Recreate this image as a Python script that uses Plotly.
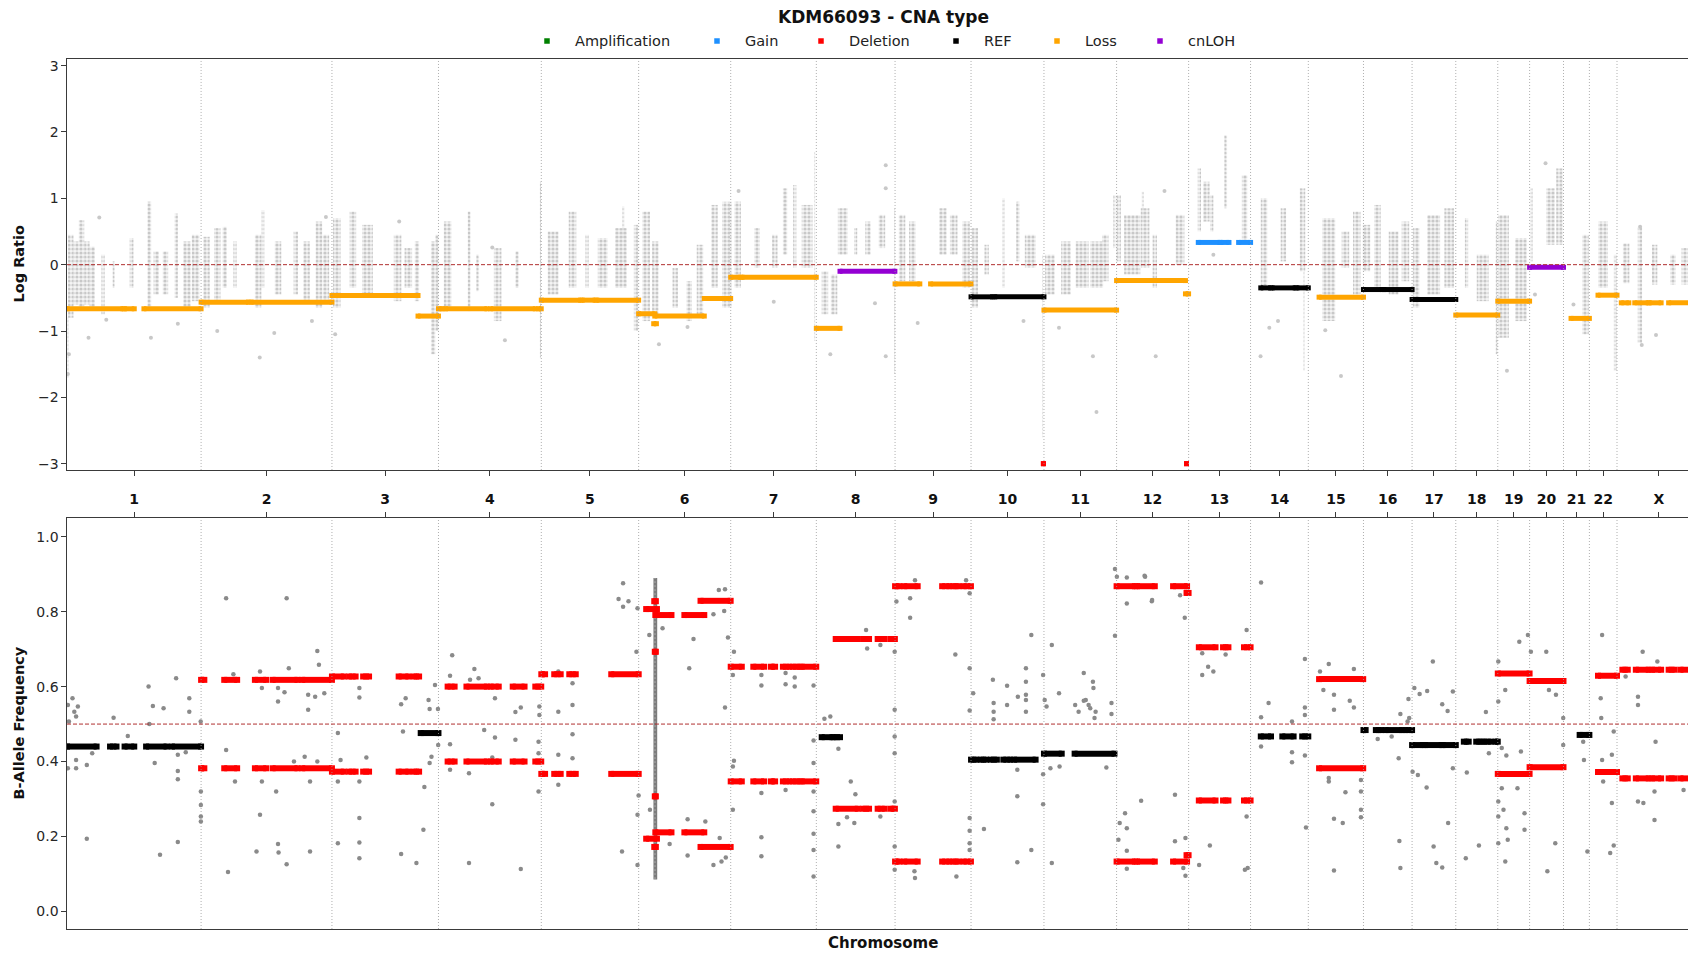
import plotly.graph_objects as go

# ---------------- data ----------------
CHROM_NAMES = ["1", "2", "3", "4", "5", "6", "7", "8", "9", "10", "11", "12",
               "13", "14", "15", "16", "17", "18", "19", "20", "21", "22", "X"]
CHROM_LEN_MB = [249.25, 243.20, 198.02, 191.15, 180.92, 171.12, 159.14, 146.36,
                141.21, 135.53, 135.01, 133.85, 115.17, 107.35, 102.53, 90.35,
                81.20, 78.08, 59.13, 63.03, 48.13, 51.30, 155.27]

# log-ratio segments: (chrom, start Mb, end Mb, log ratio)
LR_AMPLIFICATION = []
LR_GAIN = [("13", 18, 58, 0.335), ("13", 60, 75, 0.335), ("13", 93, 115.2, 0.335)]
LR_DELETION = [("10", 134.5, 134.5, -3.0), ("12", 130, 130, -3.0)]
LR_REF = [("10", 0, 40, -0.485), ("10", 44, 135.5, -0.485),
          ("14", 19, 37, -0.35), ("14", 40, 83, -0.35), ("14", 86, 107.3, -0.35),
          ("16", 0, 34, -0.375), ("16", 38, 90.3, -0.375),
          ("17", 0, 19, -0.525), ("17", 23, 81.2, -0.525)]
LR_LOSS = [("1", 0, 104, -0.665), ("1", 107, 125, -0.665), ("1", 143, 249.2, -0.665),
           ("2", 0, 88, -0.565), ("2", 93, 243.2, -0.565),
           ("3", 0, 160, -0.465), ("3", 160, 198, -0.775),
           ("4", 0, 8, -0.665), ("4", 13, 90, -0.665), ("4", 97, 180, -0.665), ("4", 186, 191, -0.665),
           ("5", 0, 73, -0.535), ("5", 76, 100, -0.535), ("5", 103, 180.9, -0.535),
           ("6", 0, 30, -0.74), ("6", 28, 33, -0.89), ("6", 30, 122, -0.775), ("6", 122, 171, -0.51),
           ("7", 0, 18, -0.19), ("7", 21, 159, -0.19),
           ("8", 0, 44, -0.96),
           ("9", 0, 46, -0.29), ("9", 66, 141, -0.29),
           ("11", 0, 135, -0.685),
           ("12", 0, 128, -0.24), ("12", 128, 133.8, -0.44),
           ("15", 20, 102.5, -0.49),
           ("18", 0, 78, -0.76),
           ("19", 0, 59.1, -0.55),
           ("21", 14, 48.1, -0.81),
           ("22", 16, 51.3, -0.46),
           ("X", 8, 22, -0.575), ("X", 33, 58, -0.575), ("X", 60, 82, -0.575), ("X", 96, 155.3, -0.575)]
LR_CNLOH = [("8", 44, 146, -0.10), ("20", 0, 63, -0.04)]

# log-ratio probe clouds: (chrom, centre Mb, span Mb, low, high)
LR_CLOUD = [
    ("1", 1.5, 2, -1.7, -0.8), ("1", 7, 10, -0.8, 0.45), ("1", 17, 10, -0.6, 0.35), ("1", 27, 10, -0.65, 0.67),
    ("1", 37, 10, -0.6, 0.35), ("1", 47, 10, -0.65, 0.27), ("1", 67, 6, -0.75, 0.15), ("1", 87, 4, -0.35, 0.05),
    ("1", 120, 7, -0.35, 0.4), ("1", 153, 7, -0.7, 0.95), ("1", 166, 10, -0.45, 0.2), ("1", 183, 10, -0.45, 0.2),
    ("1", 203, 6, -0.5, 0.77), ("1", 223, 14, -0.65, 0.35), ("1", 239, 14, -0.55, 0.45),
    ("2", 10, 12, -0.65, 0.42), ("2", 30, 12, -0.55, 0.55), ("2", 44, 8, -0.35, 0.57), ("2", 63, 6, -0.35, 0.35),
    ("2", 106, 12, -0.65, 0.45), ("2", 115, 5, -0.35, 0.82), ("2", 143, 12, -0.45, 0.35), ("2", 176, 8, -0.45, 0.5),
    ("2", 196, 12, -0.55, 0.35), ("2", 219, 12, -0.65, 0.65), ("2", 232, 12, -0.55, 0.45),
    ("3", 9, 14, -0.65, 0.7), ("3", 39, 12, -0.35, 0.8), ("3", 66, 20, -0.45, 0.6), ("3", 122, 14, -0.55, 0.45),
    ("3", 142, 14, -0.35, 0.25), ("3", 158, 8, -0.55, 0.35), ("3", 188, 8, -1.35, 0.35), ("3", 195, 6, -1.0, 0.45),
    ("4", 17, 14, -0.65, 0.65), ("4", 57, 5, -0.7, 0.8), ("4", 73, 5, -0.4, 0.15), ("4", 110, 14, -0.85, 0.25),
    ("4", 146, 6, -0.35, 0.2), ("4", 189.5, 2, -1.4, 1.25),
    ("5", 22, 20, -0.45, 0.5), ("5", 58, 14, -0.35, 0.8), ("5", 85, 6, -0.35, 0.45), ("5", 114, 18, -0.35, 0.4),
    ("5", 148, 22, -0.35, 0.55), ("5", 152, 4, 0.4, 0.88), ("5", 176, 8, -1.0, 0.6),
    ("6", 14, 14, -0.85, 0.8), ("6", 31, 12, -0.75, 0.35), ("6", 68, 10, -0.65, -0.05), ("6", 94, 10, -0.85, -0.25),
    ("6", 114, 12, -0.75, 0.3), ("6", 141, 12, -0.35, 0.9), ("6", 164, 18, -0.65, 0.95),
    ("7", 13, 12, -0.35, 0.95), ("7", 49, 10, -0.05, 0.55), ("7", 82, 10, -0.05, 0.45), ("7", 101, 8, 0.15, 1.15),
    ("7", 119, 6, -0.05, 1.2), ("7", 142, 20, -0.05, 0.9), ("7", 156, 2, -1.15, 1.7),
    ("8", 16, 12, -0.75, -0.1), ("8", 33, 12, -0.75, -0.15), ("8", 49, 18, 0.15, 0.85), ("8", 73, 6, 0.15, 0.55),
    ("8", 96, 10, 0.15, 0.65), ("8", 122, 12, 0.25, 0.75), ("8", 145.5, 2, -1.65, 0.85),
    ("9", 13, 12, -0.25, 0.75), ("9", 32, 12, -0.25, 0.65), ("9", 89, 14, 0.15, 0.85), ("9", 109, 14, 0.15, 0.75),
    ("9", 132, 14, -0.35, 0.65),
    ("10", 7, 12, -0.65, 0.55), ("10", 29, 8, -0.15, 0.3), ("10", 60, 4, -0.35, 1.0), ("10", 87, 6, 0.05, 0.95),
    ("10", 110, 20, -0.05, 0.45), ("10", 133, 2, -2.6, 0.15),
    ("11", 11, 18, -0.45, 0.15), ("11", 41, 18, -0.45, 0.35), ("11", 71, 24, -0.35, 0.35), ("11", 98, 24, -0.35, 0.35),
    ("11", 114, 12, -0.25, 0.45), ("11", 131, 4, 0.25, 1.05),
    ("12", 4, 8, 0.05, 1.05), ("12", 29, 30, -0.15, 0.75), ("12", 49, 4, 0.65, 1.1), ("12", 53, 16, -0.05, 0.85),
    ("12", 71, 8, -0.35, 0.45), ("12", 118, 16, 0.0, 0.75),
    ("13", 20, 6, 0.5, 1.45), ("13", 33, 12, 0.65, 1.25), ("13", 43, 6, 0.5, 1.05), ("13", 69, 5, 0.85, 1.95),
    ("13", 104, 10, 0.35, 1.35),
    ("14", 25, 12, -0.35, 1.0), ("14", 61, 10, 0.05, 0.85), ("14", 96.6, 10, -0.1, 1.15), ("14", 99, 2, -1.6, -0.1),
    ("15", 38, 24, -0.85, 0.7), ("15", 69, 14, -0.05, 0.5), ("15", 90, 14, -0.45, 0.8),
    ("16", 5.6, 14, -0.1, 0.6), ("16", 26, 12, -0.35, 0.9), ("16", 56, 18, -0.45, 0.5), ("16", 78, 14, -0.25, 0.65),
    ("17", 7.5, 12, -0.65, 0.55), ("17", 40, 24, -0.45, 0.75), ("17", 69, 18, -0.35, 0.85),
    ("18", 20, 6, -0.35, 0.7), ("18", 50, 22, -0.55, 0.15), ("18", 75.7, 3, -1.35, 0.65),
    ("19", 10.6, 20, -1.1, 0.75), ("19", 43, 22, -0.85, 0.4),
    ("20", 3.5, 4, 0.05, 1.15), ("20", 39, 16, 0.3, 1.15), ("20", 55.5, 12, 0.3, 1.45),
    ("21", 41, 12, -1.05, 0.45),
    ("22", 25.6, 18, -0.35, 0.65), ("22", 48, 5, -1.6, 0.15),
    ("X", 17, 12, -0.28, 0.32), ("X", 42.6, 8, -1.18, 0.57), ("X", 70, 10, -0.3, 0.3), ("X", 104, 10, -0.3, 0.15),
    ("X", 126, 12, -0.3, 0.25),
]

# scattered log-ratio probes: (chrom, Mb, log ratio)
LR_OUTLIERS = [
    ("1", 60, 0.71), ("1", 40, -1.1), ("1", 156, -1.1), ("1", 73, -0.83), ("1", 206, -0.89), ("1", 1.6, -1.65),
    ("1", 3.6, -1.35), ("2", 30, -1.0), ("2", 136, -1.03), ("2", 109, -1.4), ("2", 206, -0.85), ("2", 232, 0.72),
    ("3", 6, -1.05), ("3", 125, 0.65), ("4", 123.5, -1.14), ("4", 100, 0.26), ("6", 37.7, -1.2), ("6", 90.8, -0.94),
    ("7", 14.6, 1.11), ("7", 80, -0.56), ("8", 129, 1.5), ("8", 129, 1.15), ("8", 109, -0.58), ("8", 129, -1.38),
    ("8", 26, -1.35), ("9", 42, -0.88), ("10", 97.5, -0.85), ("11", 97.6, -2.22), ("11", 91, -1.38),
    ("11", 27.9, -0.95), ("12", 89, 1.11), ("12", 72.7, -1.38), ("13", 46, 0.15), ("14", 18.6, -1.38),
    ("14", 34.8, -0.95), ("14", 51, -0.85), ("15", 60.7, -1.68), ("15", 31.5, -0.99), ("19", 17, -1.6),
    ("20", 29.6, 1.53), ("20", 10, -0.45), ("21", 18.5, -0.6), ("X", 46, -1.21), ("X", 72.5, -1.06), ("X", 43, 0.57),
]

# B-allele frequency segments
BAF_IMBALANCED = [  # (chrom, start, end, upper BAF, lower BAF)
    ("2", 0, 6, 0.618, 0.382), ("2", 43, 67, 0.618, 0.382), ("2", 100, 121, 0.618, 0.382),
    ("2", 133, 179, 0.618, 0.382), ("2", 188, 243.2, 0.618, 0.382),
    ("3", 0, 22, 0.627, 0.373), ("3", 32, 44, 0.627, 0.373), ("3", 58, 69, 0.627, 0.373),
    ("3", 124, 142, 0.627, 0.373), ("3", 152, 162, 0.627, 0.373),
    ("4", 17, 30, 0.60, 0.40), ("4", 52, 90, 0.60, 0.40), ("4", 97, 112, 0.60, 0.40),
    ("4", 138, 160, 0.60, 0.40), ("4", 180, 191, 0.60, 0.40),
    ("5", 0, 7, 0.633, 0.367), ("5", 24, 36, 0.633, 0.367), ("5", 52, 64, 0.633, 0.367), ("5", 130, 181, 0.633, 0.367),
    ("6", 14, 34, 0.807, 0.194), ("6", 29, 32, 0.828, 0.172), ("6", 30, 32, 0.693, 0.307),
    ("6", 31, 61, 0.791, 0.211), ("6", 85, 122, 0.791, 0.211), ("6", 115, 171, 0.829, 0.172),
    ("7", 0, 20.6, 0.653, 0.347), ("7", 42, 62, 0.653, 0.347), ("7", 74.5, 82.5, 0.653, 0.347),
    ("7", 97, 109, 0.653, 0.347), ("7", 115.7, 127.6, 0.653, 0.347), ("7", 132, 159, 0.653, 0.347),
    ("8", 36, 77, 0.727, 0.274), ("8", 87, 98, 0.727, 0.274), ("8", 114, 127, 0.727, 0.274), ("8", 138, 146, 0.727, 0.274),
    ("9", 0, 8, 0.868, 0.133), ("9", 17, 42, 0.868, 0.133), ("9", 87.5, 101, 0.868, 0.133),
    ("9", 108, 118, 0.868, 0.133), ("9", 127.5, 141, 0.868, 0.133),
    ("12", 0, 34, 0.868, 0.133), ("12", 38, 71, 0.868, 0.133), ("12", 105, 131, 0.868, 0.133),
    ("12", 130, 133.8, 0.85, 0.15),
    ("13", 19, 50, 0.705, 0.296), ("13", 64, 74, 0.705, 0.296), ("13", 103, 115.2, 0.705, 0.296),
    ("15", 20, 102, 0.62, 0.382),
    ("19", 0, 59.1, 0.635, 0.367),
    ("20", 0, 63, 0.615, 0.385),
    ("22", 16, 51.3, 0.629, 0.372),
    ("X", 10, 20, 0.645, 0.355), ("X", 35, 59, 0.645, 0.355), ("X", 65, 82, 0.645, 0.355),
    ("X", 96, 107, 0.645, 0.355), ("X", 118, 155.3, 0.645, 0.355),
]
BAF_BALANCED = [  # (chrom, start, end, BAF)
    ("1", 0, 55, 0.44), ("1", 80, 92, 0.44), ("1", 107, 125, 0.44), ("1", 147, 185, 0.44), ("1", 195, 249.2, 0.44),
    ("3", 165, 198, 0.476),
    ("8", 10, 30, 0.465), ("8", 33, 44, 0.465),
    ("10", 0, 10, 0.405), ("10", 18, 28, 0.405), ("10", 37, 48, 0.405), ("10", 60, 73, 0.405), ("10", 80, 120, 0.405),
    ("11", 0, 33, 0.421), ("11", 57, 131, 0.421),
    ("14", 19, 38, 0.467), ("14", 59, 80, 0.467), ("14", 96, 107.3, 0.467),
    ("16", 0, 4, 0.484), ("16", 23, 33, 0.484), ("16", 41, 72, 0.484), ("16", 78, 90.3, 0.484),
    ("17", 0, 20, 0.444), ("17", 24, 55, 0.444), ("17", 57, 81.2, 0.444),
    ("18", 15, 24, 0.453), ("18", 38, 48, 0.453), ("18", 53, 65, 0.453), ("18", 74, 78, 0.453),
    ("21", 30, 48.1, 0.471),
]
BAF_CLOUD = [("6", 31, 7, 0.085, 0.89)]  # dense HLA column: (chrom, centre, span, low, high)

BAF_POINTS = [  # (chrom, Mb, BAF)
    ("1", 1.6, 0.551), ("1", 10.2, 0.569), ("1", 16.9, 0.52), ("1", 20.2, 0.547), ("1", 13.6, 0.533), ("1", 3.6, 0.507),
    ("1", 1.6, 0.382), ("1", 16.9, 0.404), ("1", 36.8, 0.391), ("1", 16.9, 0.382), ("1", 46.8, 0.422), ("1", 36.8, 0.194),
    ("1", 86.6, 0.517), ("1", 113, 0.468), ("1", 151.6, 0.6), ("1", 159.6, 0.548), ("1", 179.5, 0.542), ("1", 163, 0.396),
    ("1", 153, 0.5), ("1", 172.9, 0.151), ("1", 202.8, 0.622), ("1", 206, 0.418), ("1", 206, 0.375), ("1", 206, 0.353),
    ("1", 206, 0.185), ("1", 227.3, 0.569), ("1", 227.3, 0.533), ("1", 220.7, 0.425), ("1", 248.5, 0.507),
    ("1", 248.8, 0.32), ("1", 248.8, 0.284), ("1", 248.8, 0.253), ("1", 248.8, 0.24),
    ("2", 46.5, 0.836), ("2", 159, 0.836), ("2", 60, 0.633), ("2", 46.5, 0.431), ("2", 63, 0.347), ("2", 109.5, 0.64),
    ("2", 113, 0.596), ("2", 143, 0.596), ("2", 143, 0.56), ("2", 163, 0.649), ("2", 155, 0.585), ("2", 216, 0.695),
    ("2", 219, 0.658), ("2", 199, 0.578), ("2", 199, 0.538), ("2", 229, 0.582), ("2", 212, 0.573), ("2", 172.6, 0.4),
    ("2", 192.5, 0.413), ("2", 216, 0.4), ("2", 113, 0.347), ("2", 139.5, 0.32), ("2", 109.5, 0.258), ("2", 103, 0.16),
    ("2", 143, 0.18), ("2", 144, 0.157), ("2", 159, 0.126), ("2", 202.5, 0.16), ("2", 202.5, 0.347), ("2", 50, 0.105),
    ("3", 11, 0.476), ("3", 16, 0.404), ("3", 11, 0.347), ("3", 11, 0.182), ("3", 51, 0.596), ("3", 51, 0.571),
    ("3", 51, 0.347), ("3", 51, 0.249), ("3", 51, 0.184), ("3", 51, 0.142), ("3", 64, 0.411), ("3", 128.6, 0.553),
    ("3", 132, 0.48), ("3", 137, 0.569), ("3", 128.6, 0.153), ("3", 157, 0.129), ("3", 171.8, 0.332), ("3", 170, 0.218),
    ("3", 181.6, 0.396), ("3", 191.6, 0.604), ("3", 179.6, 0.564), ("3", 181.6, 0.54), ("3", 197, 0.54), ("3", 185, 0.413),
    ("3", 197.5, 0.444),
    ("4", 25.5, 0.684), ("4", 21.5, 0.629), ("4", 66.7, 0.647), ("4", 58.7, 0.618), ("4", 74.5, 0.622), ("4", 105, 0.569),
    ("4", 21.5, 0.446), ("4", 21.5, 0.378), ("4", 56.7, 0.369), ("4", 85, 0.484), ("4", 105, 0.464), ("4", 100, 0.411),
    ("4", 100, 0.286), ("4", 56.7, 0.129), ("4", 143, 0.532), ("4", 153, 0.544), ("4", 143, 0.458), ("4", 153, 0.113),
    ("4", 187.5, 0.547), ("4", 187.5, 0.524), ("4", 186, 0.453), ("4", 186, 0.422), ("4", 186, 0.32),
    ("5", 31.6, 0.64), ("5", 31.6, 0.533), ("5", 31.6, 0.418), ("5", 31.6, 0.338), ("5", 58, 0.609), ("5", 58, 0.551),
    ("5", 58, 0.473), ("5", 58, 0.409), ("5", 152, 0.876), ("5", 143.6, 0.834), ("5", 162, 0.828), ("5", 152, 0.813),
    ("5", 178.8, 0.809), ("5", 176.8, 0.693), ("5", 180.8, 0.309), ("5", 178.8, 0.258), ("5", 178.8, 0.124),
    ("5", 150, 0.16),
    ("6", 19.8, 0.738), ("6", 21, 0.271), ("6", 44.4, 0.756), ("6", 57.6, 0.18), ("6", 94, 0.649), ("6", 102, 0.727),
    ("6", 91, 0.246), ("6", 91, 0.149), ("6", 124, 0.24), ("6", 139, 0.793), ("6", 149, 0.858), ("6", 160.5, 0.86),
    ("6", 159, 0.802), ("6", 166, 0.731), ("6", 160.5, 0.544), ("6", 139, 0.124), ("6", 154, 0.133), ("6", 150.6, 0.196),
    ("6", 162, 0.144),
    ("7", 6, 0.693), ("7", 4, 0.631), ("7", 6, 0.402), ("7", 4, 0.387), ("7", 4, 0.271), ("7", 57, 0.631), ("7", 57, 0.603),
    ("7", 57, 0.316), ("7", 57, 0.198), ("7", 57, 0.147), ("7", 102, 0.636), ("7", 102, 0.606), ("7", 119, 0.624),
    ("7", 102, 0.324), ("7", 119, 0.6), ("7", 154, 0.603), ("7", 154, 0.456), ("7", 154, 0.396), ("7", 154, 0.32),
    ("7", 154, 0.267), ("7", 154, 0.207), ("7", 154, 0.164), ("7", 154, 0.093),
    ("8", 15, 0.514), ("8", 26, 0.52), ("8", 41, 0.434), ("8", 41, 0.233), ("8", 41, 0.173), ("8", 64, 0.347),
    ("8", 72.6, 0.313), ("8", 70.6, 0.236), ("8", 57, 0.251), ("8", 92.5, 0.751), ("8", 94.5, 0.702), ("8", 119, 0.711),
    ("8", 119, 0.253), ("8", 145.6, 0.693), ("8", 145.6, 0.538), ("8", 145.6, 0.467), ("8", 145.6, 0.422),
    ("8", 145.6, 0.293), ("8", 145.6, 0.173), ("8", 145.6, 0.111),
    ("9", 2.5, 0.827), ("9", 28, 0.836), ("9", 28, 0.784), ("9", 37, 0.884), ("9", 36, 0.107), ("9", 37, 0.089),
    ("9", 112, 0.686), ("9", 114, 0.093), ("9", 132, 0.884), ("9", 138.6, 0.849), ("9", 138.6, 0.649),
    ("9", 138.6, 0.536), ("9", 138.6, 0.249), ("9", 138.6, 0.215), ("9", 138.6, 0.182), ("9", 138.6, 0.164),
    ("10", 4, 0.582), ("10", 24, 0.22), ("10", 40.6, 0.618), ("10", 42, 0.556), ("10", 42, 0.533), ("10", 42, 0.513),
    ("10", 67, 0.602), ("10", 67, 0.551), ("10", 87, 0.573), ("10", 86, 0.378), ("10", 86, 0.307), ("10", 86, 0.131),
    ("10", 102, 0.649), ("10", 102, 0.613), ("10", 102, 0.578), ("10", 102, 0.564), ("10", 102, 0.533),
    ("10", 112, 0.738), ("10", 112, 0.164), ("10", 134, 0.631), ("10", 134, 0.366), ("10", 134, 0.286),
    ("11", 14.6, 0.711), ("11", 1.4, 0.564), ("11", 4.8, 0.547), ("11", 12, 0.382), ("11", 14.6, 0.129),
    ("11", 28, 0.582), ("11", 29, 0.387), ("11", 58, 0.551), ("11", 64.4, 0.533), ("11", 74, 0.636), ("11", 77.7, 0.564),
    ("11", 83, 0.551), ("11", 86, 0.542), ("11", 91, 0.613), ("11", 92, 0.596), ("11", 96, 0.533), ("11", 94, 0.516),
    ("11", 74, 0.562), ("11", 116, 0.384), ("11", 125.5, 0.556), ("11", 125.5, 0.527), ("11", 132, 0.914),
    ("11", 132, 0.736),
    ("12", 0.5, 0.893), ("12", 19, 0.891), ("12", 52, 0.896), ("12", 19, 0.822), ("12", 65.5, 0.828), ("12", 5.8, 0.236),
    ("12", 15.7, 0.262), ("12", 19, 0.222), ("12", 3.4, 0.191), ("12", 19, 0.162), ("12", 45.6, 0.295), ("12", 19, 0.114),
    ("12", 53, 0.893), ("12", 66, 0.831), ("12", 118, 0.844), ("12", 126.7, 0.784), ("12", 108.5, 0.311),
    ("12", 108.5, 0.187), ("12", 128, 0.196), ("12", 128, 0.095), ("12", 124, 0.116),
    ("13", 25.3, 0.689), ("13", 25.3, 0.631), ("13", 36.3, 0.653), ("13", 46, 0.64), ("13", 68.8, 0.686),
    ("13", 39.5, 0.176), ("13", 19.5, 0.124), ("13", 107.8, 0.751), ("13", 107.8, 0.253), ("13", 109.8, 0.116),
    ("13", 104.6, 0.111),
    ("14", 19.5, 0.878), ("14", 19.5, 0.518), ("14", 33.5, 0.556), ("14", 19.5, 0.44), ("14", 77, 0.507), ("14", 77, 0.425),
    ("14", 77, 0.398), ("14", 101, 0.674), ("14", 101, 0.544), ("14", 101, 0.524), ("14", 101, 0.416), ("14", 103, 0.224),
    ("15", 21.7, 0.64), ("15", 38, 0.66), ("15", 28, 0.591), ("15", 47.7, 0.578), ("15", 47.7, 0.538), ("15", 38, 0.356),
    ("15", 38, 0.347), ("15", 77, 0.562), ("15", 84.7, 0.544), ("15", 84.7, 0.647), ("15", 69, 0.318), ("15", 47.7, 0.247),
    ("15", 64, 0.236), ("15", 47.7, 0.109), ("15", 97.8, 0.351), ("15", 97.8, 0.32), ("15", 97.8, 0.271),
    ("15", 97.8, 0.251),
    ("16", 26.4, 0.46), ("16", 52.4, 0.467), ("16", 68.6, 0.527), ("16", 65.4, 0.409), ("16", 66.7, 0.188),
    ("16", 68.6, 0.116), ("16", 83.6, 0.567), ("16", 85, 0.516), ("16", 82, 0.507),
    ("17", 0.9, 0.373), ("17", 10.7, 0.364), ("17", 4.2, 0.596), ("17", 14, 0.58), ("17", 28, 0.588), ("17", 27, 0.331),
    ("17", 38.6, 0.667), ("17", 40, 0.173), ("17", 45, 0.129), ("17", 56, 0.553), ("17", 56, 0.117), ("17", 66, 0.535),
    ("17", 67, 0.236), ("17", 75.8, 0.587), ("17", 75.8, 0.382),
    ("18", 20.5, 0.371), ("18", 43, 0.176), ("18", 56, 0.532), ("18", 18.6, 0.142), ("18", 61.5, 0.422),
    ("19", 0.9, 0.667), ("19", 0.9, 0.56), ("19", 13.9, 0.591), ("19", 7.4, 0.436), ("19", 15.9, 0.416), ("19", 7.4, 0.329),
    ("19", 0.9, 0.293), ("19", 10.6, 0.271), ("19", 0.9, 0.253), ("19", 15.9, 0.222), ("19", 0.9, 0.182),
    ("19", 13.9, 0.133), ("19", 18.5, 0.191), ("19", 36.6, 0.329), ("19", 43, 0.427), ("19", 49.7, 0.262),
    ("19", 49.7, 0.218), ("19", 40, 0.72), ("19", 56, 0.738),
    ("20", 2.4, 0.693), ("20", 31, 0.693), ("20", 36, 0.591), ("20", 49, 0.578), ("20", 47.7, 0.182), ("20", 33, 0.107),
    ("20", 62.5, 0.516), ("20", 62.5, 0.444),
    ("21", 36.6, 0.453), ("21", 38, 0.404), ("21", 44.4, 0.16),
    ("22", 23.6, 0.738), ("22", 21, 0.569), ("22", 22, 0.516), ("22", 23.6, 0.404), ("22", 25.6, 0.347),
    ("22", 41.8, 0.289), ("22", 41.8, 0.418), ("22", 38.6, 0.156), ("22", 45.2, 0.176), ("22", 45.2, 0.48),
    ("X", 47.7, 0.693), ("X", 39, 0.573), ("X", 39, 0.551), ("X", 71.7, 0.453), ("X", 69.7, 0.32), ("X", 49, 0.289),
    ("X", 39, 0.293), ("X", 69.7, 0.244), ("X", 75, 0.667), ("X", 16, 0.627), ("X", 123.7, 0.324),
]

CNA_TYPES = ["Amplification", "Gain", "Deletion", "REF", "Loss", "cnLOH"]
CNA_COLORS = ["#008000", "#1e90ff", "#ff0000", "#000000", "#ffa500", "#9400d3"]

# ---------------- helpers ----------------
OFFSET = {}
_acc = 0.0
for _n, _l in zip(CHROM_NAMES, CHROM_LEN_MB):
    OFFSET[_n] = _acc
    _acc += _l
CENTERS = [OFFSET[n] + l / 2 for n, l in zip(CHROM_NAMES, CHROM_LEN_MB)]
BOUNDARIES = [OFFSET[n] + l for n, l in zip(CHROM_NAMES, CHROM_LEN_MB)][:-1]


def gpos(c, p):
    return OFFSET[c] + p


def seg_xy(rows, value_idx):
    xs, ys = [], []
    for r in rows:
        xs += [gpos(r[0], r[1]), gpos(r[0], r[2]), None]
        ys += [r[value_idx], r[value_idx], None]
    return xs, ys


FONT = "DejaVu Sans"
X_RANGE = [0, 3013]
TOP_DOM = [0.5276, 1.0]
BOT_DOM = [0.0, 0.4724]
GRAY_LIGHT = "#c8c8c8"
GRAY_DARK = "#8a8a8a"

fig = go.Figure()

# probe clouds (log ratio)
fig.add_trace(go.Bar(
    x=[gpos(c, p) for c, p, s, lo, hi in LR_CLOUD],
    y=[hi - lo for c, p, s, lo, hi in LR_CLOUD],
    base=[lo for c, p, s, lo, hi in LR_CLOUD],
    width=[s for c, p, s, lo, hi in LR_CLOUD],
    marker=dict(color="rgba(0,0,0,0)", line_width=0,
                pattern=dict(shape=".", size=4, solidity=0.5, fgcolor=GRAY_LIGHT,
                             bgcolor="rgba(236,236,236,0.6)", fillmode="replace")),
    xaxis="x", yaxis="y", showlegend=False, hoverinfo="skip"))
fig.add_trace(go.Scatter(
    x=[gpos(c, p) for c, p, v in LR_OUTLIERS], y=[v for c, p, v in LR_OUTLIERS],
    mode="markers", marker=dict(color=GRAY_LIGHT, size=4),
    xaxis="x", yaxis="y", showlegend=False, hoverinfo="skip"))

# BAF probes
fig.add_trace(go.Bar(
    x=[gpos(c, p) for c, p, s, lo, hi in BAF_CLOUD],
    y=[hi - lo for c, p, s, lo, hi in BAF_CLOUD],
    base=[lo for c, p, s, lo, hi in BAF_CLOUD],
    width=[s for c, p, s, lo, hi in BAF_CLOUD],
    marker=dict(color="rgba(0,0,0,0)", line_width=0,
                pattern=dict(shape=".", size=4, solidity=0.85, fgcolor="#7c7c7c",
                             bgcolor="rgba(150,150,150,0.35)", fillmode="replace")),
    xaxis="x2", yaxis="y2", showlegend=False, hoverinfo="skip"))
fig.add_trace(go.Scatter(
    x=[gpos(c, p) for c, p, v in BAF_POINTS], y=[v for c, p, v in BAF_POINTS],
    mode="markers", marker=dict(color=GRAY_DARK, size=4.5),
    xaxis="x2", yaxis="y2", showlegend=False, hoverinfo="skip"))

# log-ratio segments
for rows, color in [(LR_AMPLIFICATION, CNA_COLORS[0]), (LR_GAIN, CNA_COLORS[1]),
                    (LR_REF, CNA_COLORS[3]), (LR_LOSS, CNA_COLORS[4]),
                    (LR_CNLOH, CNA_COLORS[5]), (LR_DELETION, CNA_COLORS[2])]:
    xs, ys = seg_xy(rows, 3)
    fig.add_trace(go.Scatter(x=xs, y=ys, mode="lines+markers",
                             line=dict(color=color, width=5),
                             marker=dict(color=color, size=5, symbol="square"),
                             xaxis="x", yaxis="y", showlegend=False, hoverinfo="skip"))

# BAF segments
xs_b, ys_b = seg_xy(BAF_BALANCED, 3)
fig.add_trace(go.Scatter(x=xs_b, y=ys_b, mode="lines+markers",
                         line=dict(color=CNA_COLORS[3], width=6),
                         marker=dict(color=CNA_COLORS[3], size=6, symbol="square"),
                         xaxis="x2", yaxis="y2", showlegend=False, hoverinfo="skip"))
xs_u, ys_u = seg_xy(BAF_IMBALANCED, 3)
xs_l, ys_l = seg_xy(BAF_IMBALANCED, 4)
fig.add_trace(go.Scatter(x=xs_u + xs_l, y=ys_u + ys_l, mode="lines+markers",
                         line=dict(color=CNA_COLORS[2], width=6),
                         marker=dict(color=CNA_COLORS[2], size=6, symbol="square"),
                         xaxis="x2", yaxis="y2", showlegend=False, hoverinfo="skip"))

# chromosome boundaries & reference lines
shapes = []
for b in BOUNDARIES:
    for xr, yr in [("x", "y domain"), ("x2", "y2 domain")]:
        shapes.append(dict(type="line", xref=xr, yref=yr, x0=b, x1=b, y0=0, y1=1,
                           line=dict(color="#9a9a9a", width=0.8, dash="1px,2px"), layer="above"))
shapes.append(dict(type="line", xref="x domain", yref="y", x0=0, x1=1, y0=0, y1=0,
                   line=dict(color="#b03030", width=1, dash="4px,2px"), layer="above"))
shapes.append(dict(type="line", xref="x2 domain", yref="y2", x0=0, x1=1, y0=0.5, y1=0.5,
                   line=dict(color="#b03030", width=1, dash="4px,2px"), layer="above"))

# legend (custom, matplotlib style)
PLOT_L, PLOT_W, PLOT_T, PLOT_H = 67, 1621, 59, 870
LEGEND_MARKER_PX = [547, 717, 821, 956, 1057, 1160]
LEGEND_Y_PX = 41
annotations = []
for name, color, mx in zip(CNA_TYPES, CNA_COLORS, LEGEND_MARKER_PX):
    xp = (mx - PLOT_L) / PLOT_W
    yp = 1 + (PLOT_T - LEGEND_Y_PX) / PLOT_H
    shapes.append(dict(type="rect", xref="paper", yref="paper", xsizemode="pixel", ysizemode="pixel",
                       xanchor=xp, yanchor=yp, x0=-2.75, x1=2.75, y0=-2.75, y1=2.75,
                       fillcolor=color, line=dict(width=0)))
    annotations.append(dict(xref="paper", yref="paper", x=xp, y=yp, xshift=26, xanchor="left",
                            yanchor="middle", text=name, showarrow=False,
                            font=dict(family=FONT, size=14.5, color="#222")))

TITLE_X = (883 - PLOT_L) / PLOT_W
annotations.append(dict(xref="paper", yref="paper", x=TITLE_X, y=1, yshift=42, xanchor="center",
                        yanchor="middle", text="<b>KDM66093 - CNA type</b>", showarrow=False,
                        font=dict(family=FONT, size=17, color="#111")))
annotations.append(dict(xref="paper", yref="paper", x=TITLE_X, y=0, yshift=-14, xanchor="center",
                        yanchor="middle", text="<b>Chromosome</b>", showarrow=False,
                        font=dict(family=FONT, size=15, color="#111")))
annotations.append(dict(xref="paper", yref="paper", x=0, xshift=-48, y=sum(TOP_DOM) / 2,
                        xanchor="center", yanchor="middle", textangle=-90, text="<b>Log Ratio</b>",
                        showarrow=False, font=dict(family=FONT, size=14.5, color="#111")))
annotations.append(dict(xref="paper", yref="paper", x=0, xshift=-48, y=sum(BOT_DOM) / 2,
                        xanchor="center", yanchor="middle", textangle=-90,
                        text="<b>B-Allele Frequency</b>", showarrow=False,
                        font=dict(family=FONT, size=14.5, color="#111")))

axis_common = dict(showgrid=False, zeroline=False, showline=True, linecolor="#3a3a3a", linewidth=1.2,
                   ticks="outside", ticklen=4.5, tickwidth=1, tickcolor="#3a3a3a")

fig.update_layout(
    width=1688, height=953,
    margin=dict(l=PLOT_L, r=0, t=PLOT_T, b=24),
    plot_bgcolor="white", paper_bgcolor="white",
    barmode="overlay", showlegend=False,
    font=dict(family=FONT, size=14, color="#262626"),
    shapes=shapes, annotations=annotations,
    xaxis=dict(domain=[0, 1], range=X_RANGE, anchor="y", tickvals=CENTERS, ticktext=CHROM_NAMES,
               tickfont=dict(family=FONT, size=14, color="#111", weight="bold"), mirror=True,
               ticklabelstandoff=12, **axis_common),
    yaxis=dict(domain=TOP_DOM, range=[-3.095, 3.1], anchor="x", tickvals=[-3, -2, -1, 0, 1, 2, 3],
               tickfont=dict(family=FONT, size=14), **axis_common),
    xaxis2=dict(domain=[0, 1], range=X_RANGE, anchor="y2", side="top", tickvals=CENTERS,
                showticklabels=False, mirror=True, **axis_common),
    yaxis2=dict(domain=BOT_DOM, range=[-0.047, 1.05], anchor="x2",
                tickvals=[0, 0.2, 0.4, 0.6, 0.8, 1.0], tickformat=".1f",
                tickfont=dict(family=FONT, size=14), **axis_common),
)

fig.write_html("out.html", config={"displayModeBar": False},
               post_script="document.body.style.margin='0';document.body.style.overflow='hidden';")
